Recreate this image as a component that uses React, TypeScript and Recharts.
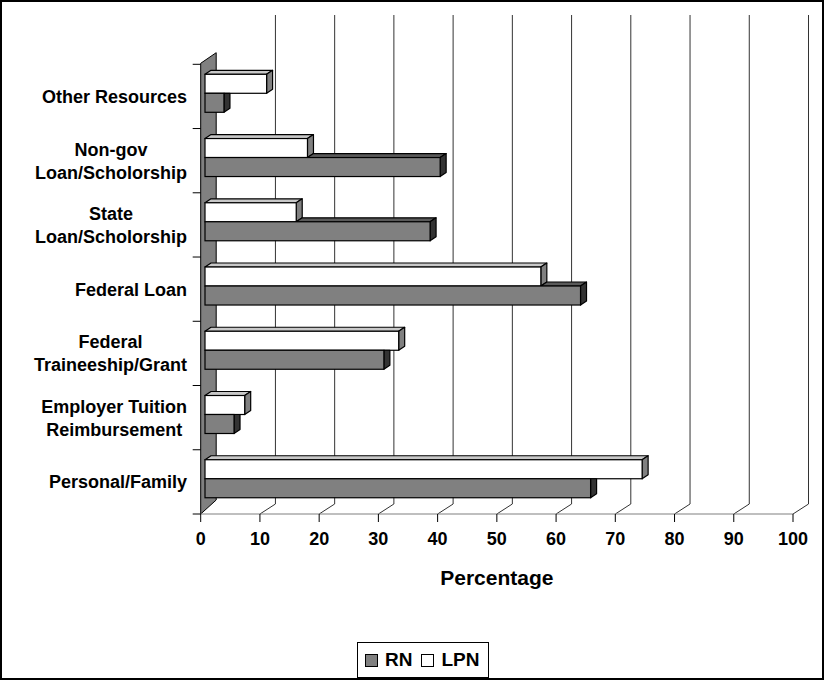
import React from 'react';
import { BarChart, Bar, XAxis, YAxis, CartesianGrid } from 'recharts';

const categories = [
  'Other Resources',
  'Non-gov\nLoan/Scholorship',
  'State\nLoan/Scholorship',
  'Federal Loan',
  'Federal\nTraineeship/Grant',
  'Employer Tuition\nReimbursement',
  'Personal/Family',
];
const rnValues = [3.2, 39.7, 38.0, 63.4, 30.2, 4.9, 65.1];
const lpnValues = [10.4, 17.3, 15.4, 56.7, 32.7, 6.7, 73.8];
const xTicks = [0, 10, 20, 30, 40, 50, 60, 70, 80, 90, 100];
const seriesNames = ['RN', 'LPN'];
const axisTitle = 'Percentage';

const data = categories.map((c, i) => ({ name: c, rn: rnValues[i], lpn: lpnValues[i] }));

const W = 825;
const H = 680;
const PLOT_LEFT = 200.7;
const PLOT_RIGHT = 793;
const PLOT_TOP = 64.3;
const PLOT_BOTTOM = 514;
const XAXIS_H = 75;
const FONT = "'Liberation Sans', Arial, sans-serif";
const LABEL_SIZE = 18;
const LABEL_RIGHT = 187;
const BAND = (PLOT_BOTTOM - PLOT_TOP) / categories.length;

const BAR_DX = 4.3;
const BAR_DY = -3.5;
const DEPTH_X = 6;
const DEPTH_Y = -4;
const WALL_DX = 15.5;
const BACK_TOP = 15;
const BACK_DROP = 10;

const RN_FRONT = '#808080';
const RN_TOP = '#5a5a5a';
const RN_SIDE = '#333333';
const LPN_FRONT = '#ffffff';
const LPN_TOP = '#c8c8c8';
const LPN_SIDE = '#808080';
const STROKE = '#000';
const SW = 1.2;

let ctx: CanvasRenderingContext2D | null = null;
function measure(text: string, font: string): number {
  if (!ctx) ctx = document.createElement('canvas').getContext('2d');
  if (!ctx) return text.length * 10;
  ctx.font = font;
  return ctx.measureText(text).width;
}

const pts = (arr: number[][]) => arr.map((p) => p.join(',')).join(' ');

const LpnShape = (props: any) => {
  const { x, y, width, height } = props;
  if (width == null || width <= 0) return <g />;
  const fx = x + BAR_DX;
  const fy = y + BAR_DY;
  const w = width;
  const h = height;
  return (
    <g>
      <polygon
        points={pts([[fx, fy], [fx + w, fy], [fx + w + DEPTH_X, fy + DEPTH_Y], [fx + DEPTH_X, fy + DEPTH_Y]])}
        fill={LPN_TOP}
        stroke={STROKE}
        strokeWidth={SW}
        strokeLinejoin="round"
      />
      <polygon
        points={pts([[fx + w, fy], [fx + w + DEPTH_X, fy + DEPTH_Y], [fx + w + DEPTH_X, fy + h + DEPTH_Y], [fx + w, fy + h]])}
        fill={LPN_SIDE}
        stroke={STROKE}
        strokeWidth={SW}
        strokeLinejoin="round"
      />
      <rect x={fx} y={fy} width={w} height={h} fill={LPN_FRONT} stroke={STROKE} strokeWidth={SW} />
    </g>
  );
};

const RnShape = (props: any) => {
  const { x, y, width, height, value, payload } = props;
  if (width == null || width <= 0) return <g />;
  const v = Array.isArray(value) ? value[1] - value[0] : value;
  const perUnit = v ? width / v : 0;
  const lpnW = (payload?.lpn ?? 0) * perUnit;
  const fx = x + BAR_DX;
  const fy = y + BAR_DY;
  const w = width;
  const h = height;
  const parts: React.ReactNode[] = [];
  if (lpnW < w) {
    parts.push(
      <polygon
        key="top"
        points={pts([[fx + lpnW, fy], [fx + w, fy], [fx + w + DEPTH_X, fy + DEPTH_Y], [fx + lpnW + DEPTH_X, fy + DEPTH_Y]])}
        fill={RN_TOP}
        stroke={STROKE}
        strokeWidth={SW}
        strokeLinejoin="round"
      />
    );
    parts.push(
      <polygon
        key="side"
        points={pts([[fx + w, fy], [fx + w + DEPTH_X, fy + DEPTH_Y], [fx + w + DEPTH_X, fy + h + DEPTH_Y], [fx + w, fy + h]])}
        fill={RN_SIDE}
        stroke={STROKE}
        strokeWidth={SW}
        strokeLinejoin="round"
      />
    );
  } else {
    parts.push(
      <polygon
        key="side"
        points={pts([[fx + w, fy], [fx + w + DEPTH_X, fy], [fx + w + DEPTH_X, fy + h + DEPTH_Y], [fx + w, fy + h]])}
        fill={RN_SIDE}
        stroke={STROKE}
        strokeWidth={SW}
        strokeLinejoin="round"
      />
    );
  }
  return (
    <g>
      {parts}
      <rect x={fx} y={fy} width={w} height={h} fill={RN_FRONT} stroke={STROKE} strokeWidth={SW} />
    </g>
  );
};

const CatTick = (props: any) => {
  const { y, payload, index } = props;
  const text: string = String(payload?.value ?? '');
  const lines = text.split('\n');
  const font = `bold ${LABEL_SIZE}px ${FONT}`;
  const blockW = Math.max(...lines.map((l) => measure(l, font)));
  const cx = LABEL_RIGHT - blockW / 2;
  const lh = 23;
  const startY = y - ((lines.length - 1) * lh) / 2;
  const capHalf = LABEL_SIZE * 0.358;
  return (
    <g>
      <line x1={PLOT_LEFT - 8} x2={PLOT_LEFT} y1={y - BAND / 2} y2={y - BAND / 2} stroke="#000" strokeWidth={1} />
      {index === categories.length - 1 ? (
        <line x1={PLOT_LEFT - 8} x2={PLOT_LEFT} y1={y + BAND / 2} y2={y + BAND / 2} stroke="#000" strokeWidth={1} />
      ) : null}
      {lines.map((l, i) => (
        <text
          key={i}
          x={cx}
          y={startY + i * lh + capHalf}
          textAnchor="middle"
          fontFamily={FONT}
          fontWeight="bold"
          fontSize={LABEL_SIZE}
          fill="#000"
        >
          {l}
        </text>
      ))}
    </g>
  );
};

const renderGridLine = (p: any) => {
  const { x1, y1, y2, key } = p;
  const x = x1;
  if (Math.abs(x - PLOT_LEFT) < 1) {
    return (
      <polygon
        key={key}
        points={pts([[x, y1 - 1], [x + WALL_DX, y1 - 11.6], [x + WALL_DX, y2 - 14], [x, y2]])}
        fill="#808080"
        stroke="#000"
        strokeWidth={1}
      />
    );
  }
  return (
    <g key={key}>
      <line x1={x + WALL_DX} x2={x + WALL_DX} y1={BACK_TOP} y2={y2 - BACK_DROP} stroke="#333" strokeWidth={1} />
      <line x1={x + WALL_DX} x2={x} y1={y2 - BACK_DROP} y2={y2} stroke="#333" strokeWidth={1} />
    </g>
  );
};

export default function App() {
  return (
    <div style={{ position: 'absolute', left: 0, top: 0, width: W, height: H, background: '#fff', overflow: 'hidden' }}>
      <BarChart
        width={W}
        height={H}
        data={data}
        layout="vertical"
        margin={{ top: PLOT_TOP, right: W - PLOT_RIGHT, bottom: H - PLOT_BOTTOM - XAXIS_H, left: 0 }}
        barCategoryGap="21%"
        barGap={0}
      >
        <CartesianGrid horizontal={false} vertical={renderGridLine} />
        <XAxis
          type="number"
          domain={[0, 100]}
          ticks={xTicks}
          interval={0}
          height={XAXIS_H}
          tickSize={8}
          tickMargin={10}
          axisLine={{ stroke: '#808080', strokeWidth: 1.2 }}
          tickLine={{ stroke: '#000' }}
          tick={{ fill: '#000', fontSize: 18, fontWeight: 'bold', fontFamily: FONT }}
          label={{
            value: axisTitle,
            position: 'insideBottom',
            offset: 4,
            fill: '#000',
            fontSize: 21,
            fontWeight: 'bold',
            fontFamily: FONT,
          }}
        />
        <YAxis
          type="category"
          dataKey="name"
          width={PLOT_LEFT}
          interval={0}
          tickLine={false}
          axisLine={false}
          tick={<CatTick />}
        />
        <Bar dataKey="lpn" name={seriesNames[1]} fill={LPN_FRONT} shape={<LpnShape />} isAnimationActive={false} />
        <Bar dataKey="rn" name={seriesNames[0]} fill={RN_FRONT} shape={<RnShape />} isAnimationActive={false} />
      </BarChart>

      <div
        style={{
          position: 'absolute',
          left: 357,
          top: 642,
          width: 132,
          height: 36,
          boxSizing: 'border-box',
          border: '1px solid #000',
          display: 'flex',
          alignItems: 'center',
          fontFamily: FONT,
          fontWeight: 'bold',
          fontSize: 19,
          color: '#000',
        }}
      >
        <span style={{ display: 'inline-block', width: 11, height: 11, background: RN_FRONT, border: '1px solid #000', marginLeft: 7, marginRight: 7 }} />
        <span>{seriesNames[0]}</span>
        <span style={{ display: 'inline-block', width: 11, height: 11, background: LPN_FRONT, border: '1px solid #000', marginLeft: 9, marginRight: 7 }} />
        <span>{seriesNames[1]}</span>
      </div>

      <div
        style={{
          position: 'absolute',
          left: 0,
          top: 0,
          width: 824,
          height: 680,
          boxSizing: 'border-box',
          border: '2px solid #000',
          pointerEvents: 'none',
        }}
      />
    </div>
  );
}
